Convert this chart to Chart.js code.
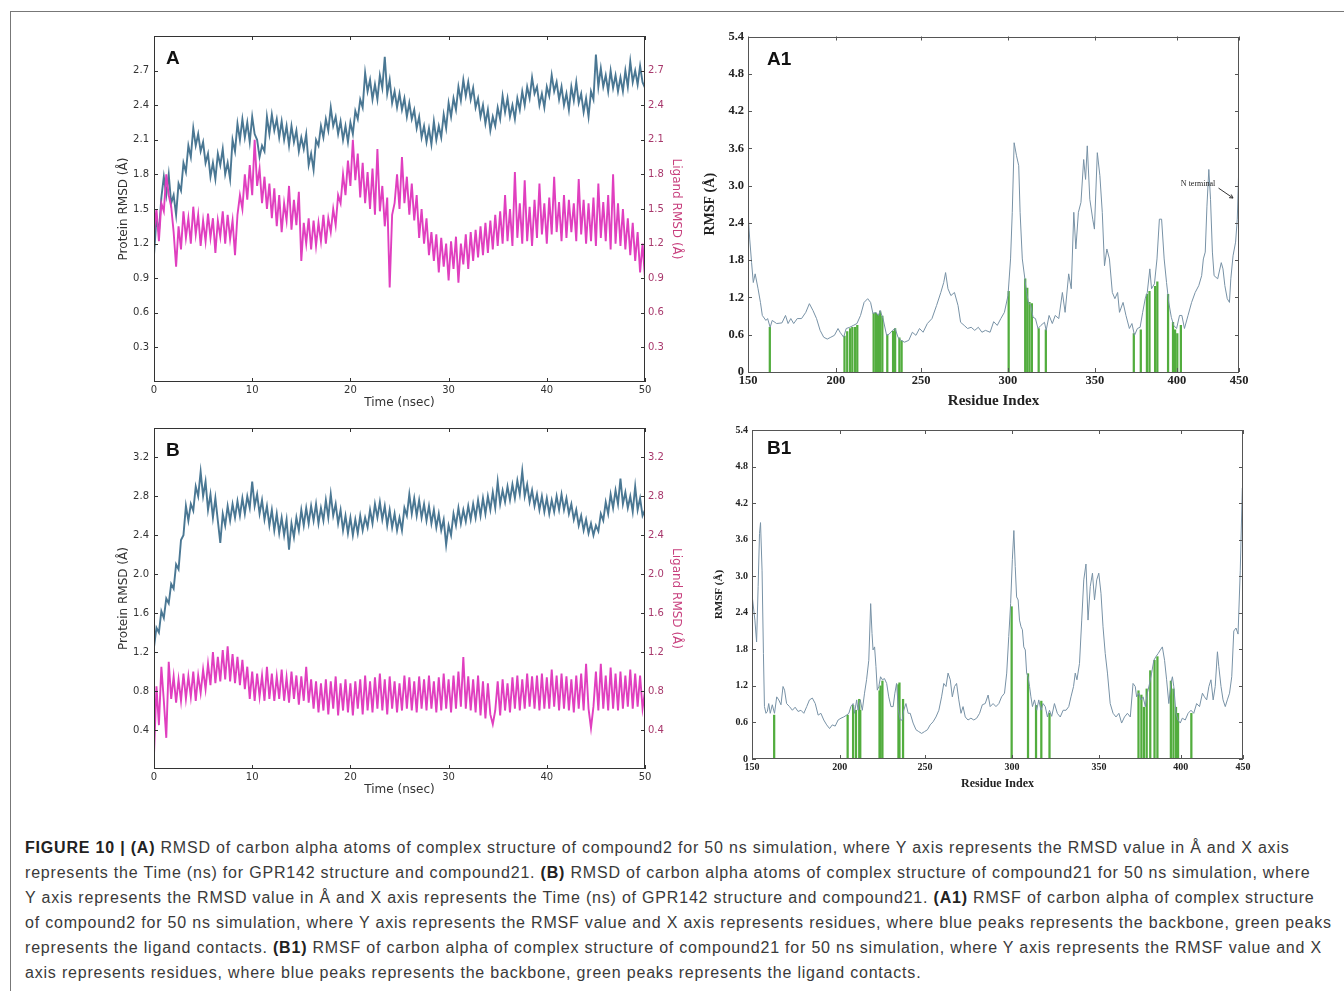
<!DOCTYPE html>
<html>
<head>
<meta charset="utf-8">
<script src="https://cdn.jsdelivr.net/npm/chart.js@4.4.1/dist/chart.umd.min.js"></script>
<style>
  html, body { margin: 0; padding: 0; background: #fff; }
  body { width: 1344px; height: 991px; position: relative; overflow: hidden; }
  .outer { position: absolute; left: 10px; top: 11px; width: 1400px; height: 1000px;
           border-top: 1px solid #777; border-left: 1px solid #777; }
  canvas { position: absolute; }
  #caption { position: absolute; left: 25px; top: 835px; font-family: "Liberation Sans", Arial, sans-serif;
             font-size: 16px; letter-spacing: 0.8px; line-height: 25px; color: #3a3a3a; white-space: nowrap; }
  #caption b { color: #222; }
</style>
</head>
<body>
<div class="outer"></div>
<canvas id="chartA" width="590" height="395" style="left:100px;top:25px"></canvas>
<canvas id="chartB" width="590" height="390" style="left:100px;top:417px"></canvas>
<canvas id="chartA1" width="570" height="395" style="left:690px;top:25px"></canvas>
<canvas id="chartB1" width="570" height="380" style="left:690px;top:420px"></canvas>
<div id="caption">
  <div><b>FIGURE 10 | (A)</b> RMSD of carbon alpha atoms of complex structure of compound2 for 50 ns simulation, where Y axis represents the RMSD value in Å and X axis</div>
  <div>represents the Time (ns) for GPR142 structure and compound21. <b>(B)</b> RMSD of carbon alpha atoms of complex structure of compound21 for 50 ns simulation, where</div>
  <div>Y axis represents the RMSD value in Å and X axis represents the Time (ns) of GPR142 structure and compound21. <b>(A1)</b> RMSF of carbon alpha of complex structure</div>
  <div>of compound2 for 50 ns simulation, where Y axis represents the RMSF value and X axis represents residues, where blue peaks represents the backbone, green peaks</div>
  <div>represents the ligand contacts. <b>(B1)</b> RMSF of carbon alpha of complex structure of compound21 for 50 ns simulation, where Y axis represents the RMSF value and X</div>
  <div>axis represents residues, where blue peaks represents the backbone, green peaks represents the ligand contacts.</div>
</div>
<script>
// sampling step of the RMSD traces (ns)
const STEP_NS = 0.25;

// panel A: protein / ligand RMSD (Å), one value every 0.25 ns
const protA = [
  1.10,1.42,1.30,1.60,1.78,1.62,1.80,1.55,1.62,1.45,
  1.72,1.66,1.90,1.82,2.05,1.95,2.20,2.05,2.15,2.00,
  2.08,1.90,1.98,1.78,1.90,1.76,1.98,1.88,2.02,1.80,
  1.90,1.76,2.10,2.00,2.24,2.10,2.28,2.12,2.25,2.08,
  2.30,2.15,2.10,1.95,2.05,2.00,2.30,2.15,2.32,2.18,
  2.28,2.12,2.26,2.10,2.22,2.05,2.22,2.08,2.18,2.00,
  2.12,2.02,2.15,1.88,1.98,1.84,2.10,2.05,2.22,2.12,
  2.28,2.18,2.38,2.22,2.30,2.15,2.26,2.10,2.22,2.08,
  2.25,2.15,2.35,2.28,2.45,2.38,2.68,2.52,2.62,2.45,
  2.58,2.45,2.66,2.55,2.82,2.50,2.62,2.42,2.52,2.38,
  2.50,2.36,2.46,2.30,2.42,2.28,2.36,2.20,2.30,2.12,
  2.22,2.08,2.20,2.06,2.26,2.10,2.22,2.12,2.32,2.20,
  2.42,2.30,2.46,2.36,2.56,2.44,2.62,2.48,2.60,2.45,
  2.55,2.38,2.46,2.30,2.40,2.24,2.36,2.18,2.30,2.22,
  2.38,2.28,2.48,2.34,2.46,2.30,2.40,2.28,2.46,2.36,
  2.52,2.40,2.56,2.46,2.64,2.50,2.56,2.40,2.50,2.38,
  2.56,2.48,2.66,2.52,2.60,2.45,2.56,2.40,2.50,2.36,
  2.56,2.44,2.60,2.42,2.50,2.34,2.46,2.30,2.52,2.45,
  2.84,2.56,2.72,2.56,2.66,2.52,2.70,2.55,2.66,2.52,
  2.64,2.52,2.70,2.56,2.78,2.60,2.70,2.58,2.74,2.60,
  2.55
];
const ligA = [
  1.30,1.50,1.22,1.55,1.48,1.80,1.62,1.52,1.30,1.00,
  1.35,1.15,1.48,1.25,1.42,1.20,1.52,1.28,1.45,1.18,
  1.40,1.22,1.46,1.25,1.42,1.12,1.40,1.26,1.48,1.20,
  1.45,1.24,1.40,1.10,1.45,1.62,1.50,1.80,1.58,1.88,
  1.62,2.10,1.70,1.85,1.55,1.78,1.50,1.72,1.42,1.68,
  1.35,1.62,1.30,1.55,1.40,1.70,1.32,1.58,1.36,1.65,
  1.05,1.38,1.20,1.42,1.15,1.40,1.18,1.38,1.22,1.45,
  1.20,1.42,1.30,1.50,1.36,1.62,1.55,1.80,1.62,1.92,
  1.70,2.10,1.75,1.98,1.60,1.90,1.55,1.82,1.50,1.85,
  1.45,2.02,1.48,1.70,1.35,1.60,0.82,1.45,1.55,1.80,
  1.50,1.95,1.55,1.78,1.45,1.72,1.40,1.62,1.25,1.50,
  1.20,1.42,1.10,1.30,1.05,1.28,0.95,1.25,1.00,1.20,
  0.88,1.22,0.98,1.26,0.86,1.20,1.02,1.28,0.98,1.30,
  1.05,1.32,1.08,1.35,1.10,1.38,1.12,1.40,1.15,1.45,
  1.18,1.48,1.20,1.62,1.22,1.50,1.18,1.82,1.25,1.55,
  1.20,1.75,1.22,1.52,1.18,1.58,1.25,1.72,1.28,1.55,
  1.20,1.60,1.28,1.78,1.30,1.56,1.22,1.62,1.25,1.58,
  1.30,1.55,1.22,1.76,1.28,1.58,1.20,1.55,1.22,1.60,
  1.18,1.72,1.25,1.56,1.22,1.62,1.15,1.80,1.20,1.55,
  1.18,1.50,1.15,1.42,1.10,1.38,1.05,1.30,0.95,1.20,
  0.90
];

// panel B: protein / ligand RMSD (Å)
const protB = [
  1.25,1.45,1.40,1.62,1.55,1.75,1.70,1.90,1.85,2.10,
  2.05,2.35,2.40,2.70,2.55,2.72,2.65,2.90,2.80,3.05,
  2.80,2.95,2.66,2.82,2.58,2.78,2.55,2.32,2.62,2.50,
  2.70,2.55,2.72,2.58,2.75,2.60,2.78,2.62,2.80,2.68,
  2.95,2.70,2.82,2.62,2.76,2.56,2.70,2.50,2.66,2.45,
  2.62,2.42,2.58,2.40,2.56,2.25,2.52,2.38,2.58,2.45,
  2.66,2.50,2.68,2.52,2.70,2.55,2.72,2.52,2.68,2.55,
  2.76,2.58,2.82,2.60,2.72,2.52,2.66,2.45,2.60,2.42,
  2.58,2.40,2.56,2.42,2.60,2.45,2.58,2.48,2.66,2.52,
  2.72,2.58,2.74,2.56,2.70,2.50,2.66,2.48,2.62,2.45,
  2.58,2.45,2.68,2.60,2.82,2.62,2.78,2.60,2.76,2.58,
  2.72,2.55,2.70,2.52,2.66,2.48,2.62,2.45,2.56,2.30,
  2.50,2.40,2.62,2.50,2.68,2.52,2.66,2.54,2.70,2.56,
  2.72,2.58,2.76,2.60,2.78,2.62,2.80,2.66,2.84,2.68,
  2.95,2.72,2.86,2.74,2.90,2.76,2.92,2.78,2.96,2.82,
  3.06,2.80,2.92,2.74,2.86,2.70,2.82,2.66,2.80,2.64,
  2.78,2.62,2.76,2.64,2.80,2.66,2.82,2.66,2.78,2.62,
  2.72,2.56,2.66,2.50,2.60,2.45,2.56,2.42,2.52,2.40,
  2.50,2.44,2.62,2.55,2.74,2.62,2.82,2.68,2.86,2.72,
  2.98,2.72,2.84,2.68,2.80,2.64,2.90,2.66,2.78,2.60,
  2.66
];
const ligB = [
  0.15,0.85,0.45,1.05,0.70,0.32,1.10,0.72,0.95,0.68,
  0.92,0.70,0.98,0.72,0.95,0.74,1.00,0.70,0.96,0.78,
  1.02,0.82,1.08,0.86,1.20,0.88,1.15,0.90,1.22,0.92,
  1.26,0.90,1.18,0.88,1.15,0.86,1.12,0.82,1.05,0.72,
  1.00,0.70,0.98,0.74,0.96,0.70,1.05,0.72,0.98,0.70,
  0.95,0.72,1.02,0.70,0.94,0.68,1.00,0.72,0.96,0.66,
  0.95,0.70,1.05,0.68,0.92,0.62,0.90,0.58,0.88,0.60,
  0.92,0.56,0.90,0.62,0.95,0.55,0.88,0.60,0.92,0.58,
  0.88,0.55,0.90,0.62,0.92,0.56,0.96,0.60,0.90,0.58,
  0.94,0.62,0.98,0.60,0.92,0.56,0.95,0.62,0.90,0.58,
  0.88,0.60,0.96,0.62,0.94,0.60,0.90,0.58,0.95,0.62,
  0.92,0.60,0.96,0.62,0.90,0.58,0.94,0.60,0.98,0.62,
  0.92,0.58,0.96,0.62,1.00,0.64,1.15,0.62,0.95,0.60,
  0.92,0.58,0.96,0.55,0.90,0.52,0.88,0.56,0.46,0.60,
  0.90,0.55,0.92,0.60,0.88,0.58,0.94,0.62,0.96,0.60,
  0.92,0.62,0.98,0.64,0.95,0.62,0.96,0.60,0.98,0.62,
  0.94,0.62,1.02,0.64,0.96,0.60,0.98,0.62,0.95,0.60,
  0.92,0.58,0.96,0.62,0.98,0.60,1.08,0.62,0.42,0.64,
  1.00,0.60,1.08,0.62,0.96,0.60,1.04,0.62,0.98,0.60,
  1.00,0.62,0.96,0.64,1.02,0.62,0.98,0.64,0.96,0.62,
  0.80
];

// panel A1: RMSF (Å) along the residue index (0 = first residue shown)
const a1Pos = [
  0,1,2.1,3.1,4.2,5.9,7.3,8.4,10.5,11.5,
  13,14.2,16.8,19.9,22,23.5,25.1,26.8,28.9,31.4,
  33.9,36,38.1,40.2,42.3,44.4,46.5,48.6,50.7,52.8,
  54,56.1,57.6,59.7,61.8,63.9,66,68.1,70.2,71.9,
  73.3,75,76.5,77.5,79.2,81.3,82.8,84.8,86.3,88,
  89.7,91.8,94.3,96.4,98.5,100.6,102.7,105.2,107.9,110.6,
  113.1,114.8,115.9,117.3,119,121.1,123.2,124.7,126.8,128.8,
  130.9,133,135.1,137.2,139.3,142,144.1,146.2,148.3,150.4,
  152.5,154,155,156.1,157.5,158.8,159.6,160.9,162.4,163.4,
  164.5,165.9,167.2,168.6,170.1,171.8,173.9,174.9,176.6,178.5,
  180.2,182.3,184.4,186,188.1,189.6,191.1,192.3,193.8,195.3,
  196.9,198,199,200.5,202.2,203.2,204.9,206.4,207.8,209.1,
  210.5,212,213.7,215.2,216.8,217.9,220,221.7,223.7,225.2,
  226.7,228.4,230,231.5,233,234.2,235.7,236.7,238.4,239.9,
  241.3,242.6,244.1,245.5,246.8,248.3,249.7,251.4,253.1,254.5,
  256,258.1,260.2,262.3,264.4,266.1,267.1,268.2,269.2,270.3,
  271.3,272.4,273.4,275.5,277.6,278.6,279.7,281.1,282.4,283.2,
  284.5,286,287,288
];
const a1Rmsf = [
  2.57,2.14,1.76,1.44,1.58,1.34,1.12,0.91,0.83,0.86,
  0.72,0.83,0.78,0.79,0.91,0.78,0.86,0.78,0.86,0.86,
  0.96,1.10,0.99,0.86,0.67,0.56,0.53,0.56,0.59,0.70,
  0.64,0.56,0.70,0.72,0.75,0.78,0.91,1.12,1.18,1.12,
  0.94,0.96,0.91,0.99,0.86,0.59,0.61,0.67,0.70,0.56,
  0.51,0.48,0.51,0.64,0.59,0.70,0.64,0.78,0.86,1.07,
  1.28,1.44,1.60,1.34,1.23,1.28,1.07,0.80,0.75,0.70,
  0.72,0.67,0.72,0.64,0.67,0.64,0.81,0.75,0.86,0.96,
  1.23,1.82,2.57,3.69,3.48,3.32,2.57,1.82,1.50,1.28,
  1.12,1.07,0.88,0.86,0.70,0.75,0.80,0.67,0.91,0.78,
  0.91,0.86,1.28,0.96,1.58,1.34,2.57,1.98,2.57,2.73,
  3.42,3.10,3.64,2.78,2.46,2.30,3.53,3.16,2.57,1.71,
  1.98,1.82,1.28,1.18,1.28,0.96,1.12,0.91,0.70,0.78,
  0.59,0.70,0.72,0.96,1.18,1.28,1.66,1.34,1.42,1.82,
  2.46,2.46,1.82,1.44,1.12,0.88,0.75,0.70,0.91,0.91,
  0.70,0.91,1.12,1.28,1.39,1.55,1.82,1.93,2.67,3.26,
  2.78,1.93,1.55,1.50,1.76,1.66,1.39,1.18,1.12,1.50,
  1.87,2.09,2.46,3.42
];
// ligand contacts in A1 (residue index, height)
const a1ContactPos = [12.8,56.6,58.2,59.9,61.2,62.8,64.1,73.7,75,76.3,77.5,78.8,81.7,85.1,86.3,88.8,90.1,
  152.9,162.6,163.8,165.1,166.5,170.5,174.7,226.3,230.4,234,235.5,238.8,240.1,246.4,249.3,250.5,251.8,253.9];
const a1ContactVal = [0.72,0.58,0.65,0.70,0.72,0.72,0.75,0.95,0.95,0.92,0.98,0.90,0.60,0.66,0.70,0.55,0.50,
  1.30,1.50,1.35,1.12,1.10,0.70,0.68,0.62,0.68,1.25,1.30,1.38,1.45,1.25,0.80,0.68,0.62,0.75];

// panel B1: RMSF (Å)
const b1Pos = [
  0,1.7,2.7,3.6,4.4,5.0,5.9,6.7,7.3,8.2,
  9.0,9.8,10.7,11.9,13.2,14.5,15.7,17.0,18.2,19.1,
  20.3,22.0,23.7,25.3,27.0,28.7,30.4,32.1,33.7,35.4,
  37.1,38.8,40.4,42.1,43.8,45.5,47.1,48.8,50.5,52.2,
  53.8,55.5,56.8,58.0,59.3,60.1,61.4,62.2,63.5,64.7,
  66.0,67.2,68.5,69.6,70.4,71.0,71.9,72.7,73.5,74.4,
  75.4,76.5,77.7,79.0,80.2,81.5,82.8,83.8,84.8,85.9,
  86.9,88.2,89.0,90.3,91.6,92.8,94.5,96.2,97.8,99.5,
  101.2,102.9,104.5,106.2,107.9,109.6,111.2,112.5,113.8,115.0,
  116.3,117.5,118.8,120.0,121.3,122.6,123.8,125.1,126.7,128.4,
  130.1,131.8,133.5,135.1,136.8,138.5,139.7,141.4,143.1,144.8,
  146.4,148.1,149.4,150.6,151.7,152.7,153.6,154.4,155.2,156.1,
  156.9,157.8,158.6,159.4,160.3,161.1,161.9,162.8,163.6,164.5,
  165.7,167.0,168.2,169.5,170.7,172.0,173.3,174.5,175.8,177.4,
  179.1,180.8,182.5,184.2,185.8,187.1,188.6,189.6,190.6,192.1,
  193.4,194.6,195.9,197.1,198.4,199.7,200.9,202.2,203.4,204.7,
  205.9,207.2,208.5,210.1,211.8,213.5,215.2,216.8,218.5,220.2,
  221.9,223.5,224.8,225.6,226.9,228.1,229.4,230.7,231.9,233.2,
  234.4,235.7,236.9,238.2,239.5,240.7,242.0,243.2,244.5,245.7,
  246.6,247.4,248.7,249.9,251.2,252.4,254.1,255.8,257.5,259.1,
  260.8,262.5,264.2,265.4,266.7,268.0,269.2,270.5,271.7,273.0,
  273.8,275.1,276.3,277.6,278.8,280.1,281.4,282.6,283.9,285.1,
  286.4,287.6,288
];
const b1Rmsf = [
  2.70,2.28,1.92,2.83,3.70,3.88,3.10,1.73,0.86,0.75,
  0.78,0.91,0.75,0.89,0.75,1.02,0.97,0.89,1.19,1.13,
  0.91,0.86,0.80,0.85,0.78,0.80,0.75,0.86,0.97,1.00,
  0.91,0.72,0.75,0.64,0.56,0.50,0.56,0.54,0.64,0.67,
  0.69,0.72,0.75,0.86,0.91,0.75,0.97,0.80,0.97,0.80,
  1.08,1.30,1.62,2.55,2.06,1.79,1.84,1.52,1.13,1.19,
  1.35,1.30,1.32,1.24,1.02,0.86,0.86,1.08,1.24,0.80,
  0.64,0.64,0.80,0.91,0.75,0.75,0.59,0.48,0.45,0.42,
  0.45,0.48,0.56,0.61,0.69,0.80,1.02,1.24,1.19,1.41,
  1.30,1.02,1.19,1.24,0.97,0.75,0.86,0.69,0.64,0.67,
  0.64,0.67,0.75,0.89,0.91,1.05,0.86,0.91,0.86,0.91,
  1.02,1.08,1.41,2.01,2.55,3.27,3.75,3.16,2.66,2.61,
  2.28,2.17,2.12,1.84,1.79,1.41,1.35,1.19,1.02,0.86,
  0.97,0.80,0.97,0.80,0.91,0.86,0.69,0.80,0.70,0.91,
  0.75,0.69,0.80,0.80,0.86,1.02,1.19,1.41,1.30,1.57,
  2.28,2.94,3.20,2.28,2.83,3.05,2.61,2.94,3.05,2.72,
  2.17,1.73,1.41,0.91,0.75,0.69,0.75,0.59,0.69,0.75,
  0.69,1.24,1.19,1.02,1.08,0.97,1.02,0.86,1.08,1.24,
  1.41,1.62,1.68,1.73,1.79,1.84,1.62,1.30,0.91,1.24,
  1.35,1.19,0.75,0.64,0.59,0.67,0.64,0.75,0.80,0.75,
  0.91,0.86,1.08,1.02,0.97,1.19,1.30,0.97,1.19,1.76,
  1.52,1.19,0.97,0.86,0.97,1.08,1.35,2.10,2.15,2.05,
  3.10,4.45,4.45
];
const b1ContactPos = [13,56.1,59.3,61,62.9,63.5,74.8,75.4,76.5,85.9,86.5,88.6,
  152.3,161.9,166.6,169.7,174.5,226.7,228.4,229.9,231.5,233.6,236.1,237.8,245.7,247.2,248.7,249.9,257.7];
const b1ContactVal = [0.72,0.72,0.88,0.80,0.98,0.80,1.12,1.20,1.28,1.22,1.25,0.98,
  2.50,1.40,0.88,0.95,0.75,1.12,1.05,0.85,1.15,1.45,1.62,1.68,1.28,1.15,0.85,0.75,0.75];

// axis ticks
const timeTicks = [0, 10, 20, 30, 40, 50];
const rmsdTicksA = [0.3, 0.6, 0.9, 1.2, 1.5, 1.8, 2.1, 2.4, 2.7];
const rmsdTicksB = [0.4, 0.8, 1.2, 1.6, 2.0, 2.4, 2.8, 3.2];
const rmsfTicks = [0, 0.6, 1.2, 1.8, 2.4, 3.0, 3.6, 4.2, 4.8, 5.4];
const residueTickPos = [0, 51.5, 101.5, 152.5, 203.5, 251.5, 288];
const residueTickLabels = ['150', '200', '250', '300', '350', '400', '450'];

const SANS = '"DejaVu Sans", Verdana, sans-serif';
const SERIF = '"Liberation Serif", "Times New Roman", serif';
const PROT_COLOR = '#4a7793';
const LIG_COLOR = '#e03fbf';
const RMSF_COLOR = '#7892a6';
const CONTACT_COLOR = '#52ad3e';

// frame box, inward tick marks and panel letter (matplotlib look)
const framePlugin = {
  id: 'frame',
  afterDatasetsDraw(chart, args, o) {
    const { ctx, chartArea: a, scales } = chart;
    ctx.save();
    ctx.strokeStyle = o.color;
    ctx.lineWidth = 1;
    ctx.strokeRect(Math.round(a.left) + 0.5, Math.round(a.top) + 0.5,
                   Math.round(a.width) - 1, Math.round(a.height) - 1);
    ctx.beginPath();
    scales.x.ticks.forEach(t => {
      const px = Math.round(scales.x.getPixelForValue(t.value)) + 0.5;
      ctx.moveTo(px, a.bottom); ctx.lineTo(px, a.bottom - 4);
      ctx.moveTo(px, a.top); ctx.lineTo(px, a.top + 4);
    });
    const yR = scales.y2 || scales.y;
    scales.y.ticks.forEach(t => {
      const py = Math.round(scales.y.getPixelForValue(t.value)) + 0.5;
      ctx.moveTo(a.left, py); ctx.lineTo(a.left + 4, py);
    });
    yR.ticks.forEach(t => {
      const py = Math.round(yR.getPixelForValue(t.value)) + 0.5;
      ctx.moveTo(a.right, py); ctx.lineTo(a.right - 4, py);
    });
    ctx.stroke();

    ctx.fillStyle = '#111';
    ctx.font = 'bold 19px "Liberation Sans", Arial, sans-serif';
    ctx.textBaseline = 'middle';
    ctx.textAlign = 'left';
    ctx.fillText(o.letter, a.left + o.dx, a.top + o.dy);

    if (o.note) {
      const n = o.note;
      const x = scales.x, y = scales.y;
      ctx.font = '8px ' + SERIF;
      ctx.fillStyle = '#222';
      ctx.textAlign = 'center';
      ctx.fillText(n.text, x.getPixelForValue(n.x), y.getPixelForValue(n.y));
      const x0 = x.getPixelForValue(n.ax0), y0 = y.getPixelForValue(n.ay0);
      const x1 = x.getPixelForValue(n.ax1), y1 = y.getPixelForValue(n.ay1);
      ctx.strokeStyle = '#333';
      ctx.beginPath();
      ctx.moveTo(x0, y0); ctx.lineTo(x1, y1);
      const ang = Math.atan2(y1 - y0, x1 - x0);
      ctx.moveTo(x1, y1); ctx.lineTo(x1 - 4 * Math.cos(ang - 0.5), y1 - 4 * Math.sin(ang - 0.5));
      ctx.moveTo(x1, y1); ctx.lineTo(x1 - 4 * Math.cos(ang + 0.5), y1 - 4 * Math.sin(ang + 0.5));
      ctx.stroke();
    }
    ctx.restore();
  }
};

function setTicks(list) {
  return s => { s.ticks = list.map(v => ({ value: v })); };
}

function rmsdChart(id, prot, lig, yMax, yTicks, letter) {
  const toPts = arr => arr.map((v, i) => ({ x: i * STEP_NS, y: v }));
  new Chart(document.getElementById(id), {
    type: 'line',
    data: {
      datasets: [
        { label: 'Ligand RMSD', data: toPts(lig), yAxisID: 'y2', borderColor: LIG_COLOR,
          borderWidth: 1.9, pointRadius: 0, tension: 0 },
        { label: 'Protein RMSD', data: toPts(prot), yAxisID: 'y', borderColor: PROT_COLOR,
          borderWidth: 1.9, pointRadius: 0, tension: 0 }
      ]
    },
    options: {
      responsive: false,
      animation: false,
      events: [],
      layout: { padding: { top: 8 } },
      plugins: {
        legend: { display: false },
        tooltip: { enabled: false },
        frame: { color: '#333', letter: letter, dx: 12, dy: 23 }
      },
      scales: {
        x: {
          type: 'linear', min: 0, max: 50, offset: false,
          afterBuildTicks: setTicks(timeTicks),
          afterFit: s => { s.height = 38; },
          grid: { display: false, drawTicks: false },
          border: { display: false },
          ticks: { padding: 2, color: '#333', font: { family: SANS, size: 10 } },
          title: { display: true, text: 'Time (nsec)', color: '#333',
                   font: { family: SANS, size: 12 }, padding: { top: 0, bottom: 10 } }
        },
        y: {
          position: 'left', min: 0, max: yMax,
          afterBuildTicks: setTicks(yTicks),
          afterFit: s => { s.width = 54; },
          grid: { display: false, drawTicks: false },
          border: { display: false },
          ticks: { padding: 5, color: '#333', font: { family: SANS, size: 10 },
                   callback: v => v.toFixed(1) },
          title: { display: true, text: 'Protein RMSD (Å)', color: '#333',
                   font: { family: SANS, size: 12 }, padding: { top: 17, bottom: 0 } }
        },
        y2: {
          position: 'right', min: 0, max: yMax,
          afterBuildTicks: setTicks(yTicks),
          afterFit: s => { s.width = 45; },
          grid: { display: false, drawTicks: false },
          border: { display: false },
          ticks: { padding: 3, color: '#a8386c', font: { family: SANS, size: 10 },
                   callback: v => v.toFixed(1) },
          title: { display: true, text: 'Ligand RMSD (Å)', color: '#c8407e',
                   font: { family: SANS, size: 12 }, padding: { top: 7, bottom: 0 } }
        }
      }
    },
    plugins: [framePlugin]
  });
}

function rmsfChart(id, pos, vals, cPos, cVals, o) {
  new Chart(document.getElementById(id), {
    type: 'line',
    data: {
      datasets: [
        { label: 'RMSF', data: pos.map((p, i) => ({ x: p, y: vals[i] })), borderColor: RMSF_COLOR,
          borderWidth: 1, pointRadius: 0, tension: 0 },
        { type: 'bar', label: 'Ligand contacts', data: cPos.map((p, i) => ({ x: p, y: cVals[i] })),
          backgroundColor: CONTACT_COLOR, barThickness: 1.6, grouped: false }
      ]
    },
    options: {
      responsive: false,
      animation: false,
      events: [],
      layout: { padding: { top: o.padTop, right: o.padRight } },
      plugins: {
        legend: { display: false },
        tooltip: { enabled: false },
        frame: { color: '#555', letter: o.letter, dx: o.dx, dy: o.dy, note: o.note }
      },
      scales: {
        x: {
          type: 'linear', min: 0, max: 288, offset: false,
          afterBuildTicks: setTicks(residueTickPos),
          afterFit: s => { s.height = o.xHeight; },
          grid: { display: false, drawTicks: false },
          border: { display: false },
          ticks: { padding: o.xPad, color: '#222', font: { family: SERIF, size: o.tickSize, weight: 'bold' },
                   callback: v => residueTickLabels[residueTickPos.indexOf(v)] },
          title: { display: true, text: 'Residue Index', color: '#222',
                   font: { family: SERIF, size: o.xTitleSize, weight: 'bold' },
                   padding: { top: 0, bottom: o.xTitlePad } }
        },
        y: {
          position: 'left', min: 0, max: 5.4,
          afterBuildTicks: setTicks(rmsfTicks),
          afterFit: s => { s.width = o.yWidth; },
          grid: { display: false, drawTicks: false },
          border: { display: false },
          ticks: { padding: 4, color: '#222', font: { family: SERIF, size: o.tickSize, weight: 'bold' },
                   callback: v => (v === 0 ? '0' : v.toFixed(1)) },
          title: { display: true, text: 'RMSF (Å)', color: '#222',
                   font: { family: SERIF, size: o.yTitleSize, weight: 'bold' },
                   padding: { top: o.yTitlePad, bottom: 0 } }
        }
      }
    },
    plugins: [framePlugin]
  });
}

rmsdChart('chartA', protA, ligA, 3.0, rmsdTicksA, 'A');
rmsdChart('chartB', protB, ligB, 3.5, rmsdTicksB, 'B');

rmsfChart('chartA1', a1Pos, a1Rmsf, a1ContactPos, a1ContactVal, {
  letter: 'A1', dx: 19, dy: 23, padTop: 8, padRight: 21, yWidth: 58, xHeight: 48,
  tickSize: 12.5, xPad: 1, xTitleSize: 15, xTitlePad: 10, yTitleSize: 14, yTitlePad: 12,
  note: { text: 'N terminal', x: 264, y: 3.03, ax0: 276, ay0: 2.96, ax1: 284.5, ay1: 2.80 }
});
rmsfChart('chartB1', b1Pos, b1Rmsf, b1ContactPos, b1ContactVal, {
  letter: 'B1', dx: 15, dy: 19, padTop: 10, padRight: 17, yWidth: 62, xHeight: 41,
  tickSize: 10, xPad: 2, xTitleSize: 12, xTitlePad: 9, yTitleSize: 11, yTitlePad: 23,
  note: null
});
</script>
</body>
</html>
